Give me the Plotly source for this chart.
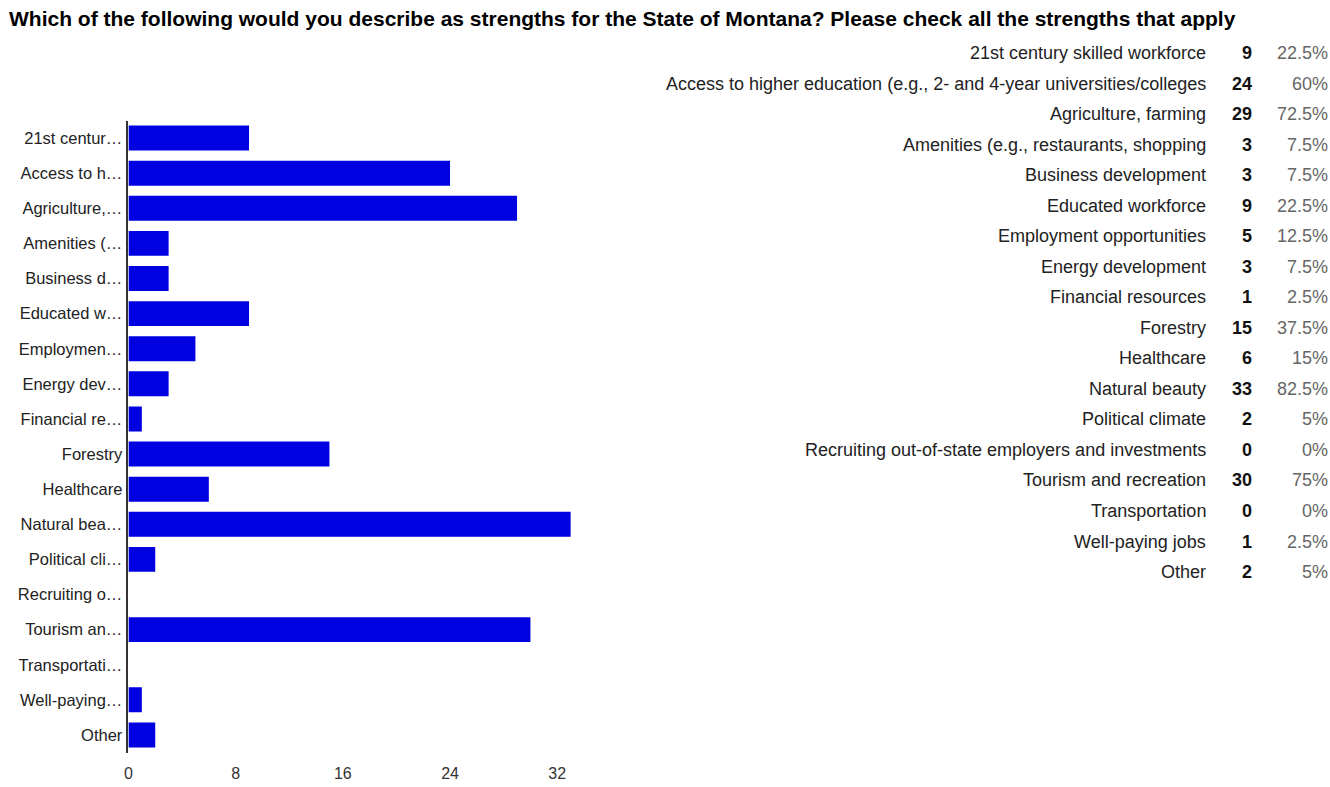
import plotly.graph_objects as go

categories = [
    "21st century skilled workforce",
    "Access to higher education (e.g., 2- and 4-year universities/colleges",
    "Agriculture, farming",
    "Amenities (e.g., restaurants, shopping",
    "Business development",
    "Educated workforce",
    "Employment opportunities",
    "Energy development",
    "Financial resources",
    "Forestry",
    "Healthcare",
    "Natural beauty",
    "Political climate",
    "Recruiting out-of-state employers and investments",
    "Tourism and recreation",
    "Transportation",
    "Well-paying jobs",
    "Other",
]
short_labels = [
    "21st centur…", "Access to h…", "Agriculture,…", "Amenities (…", "Business d…",
    "Educated w…", "Employmen…", "Energy dev…", "Financial re…", "Forestry",
    "Healthcare", "Natural bea…", "Political cli…", "Recruiting o…", "Tourism an…",
    "Transportati…", "Well-paying…", "Other",
]
counts = [9, 24, 29, 3, 3, 9, 5, 3, 1, 15, 6, 33, 2, 0, 30, 0, 1, 2]
percents = ["22.5%", "60%", "72.5%", "7.5%", "7.5%", "22.5%", "12.5%", "7.5%", "2.5%",
            "37.5%", "15%", "82.5%", "5%", "0%", "75%", "0%", "2.5%", "5%"]
x_ticks = [0, 8, 16, 24, 32]

title = "Which of the following would you describe as strengths for the State of Montana? Please check all the strengths that apply"

W, H = 1330, 787
FONT = "Liberation Sans, Arial, sans-serif"

fig = go.Figure()
fig.add_trace(go.Bar(
    x=counts, y=categories, orientation="h",
    marker=dict(color="#0000e0", line=dict(width=0)),
    xaxis="x", yaxis="y", hoverinfo="x+y",
))
# invisible trace to establish the table's category axis
fig.add_trace(go.Scatter(
    x=[0] * len(categories), y=categories, mode="markers",
    marker=dict(opacity=0), xaxis="x2", yaxis="y2", hoverinfo="skip", showlegend=False,
))

bar_dom_x = [124.8 / W, 581.8 / W]
bar_dom_y = [1 - 752.5 / H, 1 - 120.5 / H]
tab_dom_y = [1 - 587.3 / H, 1 - 37.7 / H]

fig.update_layout(
    width=W, height=H,
    margin=dict(l=0, r=0, t=0, b=0),
    paper_bgcolor="white", plot_bgcolor="white",
    showlegend=False, bargap=0.29,
    font=dict(family=FONT, size=14, color="#222"),
    xaxis=dict(domain=bar_dom_x, range=[0, 34], tickvals=x_ticks, showgrid=False,
               zeroline=False, showline=False, ticks="", ticklabelstandoff=9,
               tickfont=dict(size=16, color="#333"), fixedrange=True),
    yaxis=dict(domain=bar_dom_y, type="category", categoryarray=categories,
               range=[len(categories) - 0.5, -0.5],
               tickvals=categories, ticktext=short_labels,
               showline=True, linecolor="#333", linewidth=1.5, ticks="",
               ticklabelstandoff=1,
               showgrid=False, tickfont=dict(size=16.5, color="#222")),
    xaxis2=dict(domain=[0.6, 1.0], range=[0, 1], visible=False, anchor="y2"),
    yaxis2=dict(domain=tab_dom_y, type="category", categoryarray=categories,
                range=[len(categories) - 0.5, -0.5], visible=False, anchor="x2"),
)

annotations = [dict(
    text="<b>" + title + "</b>", xref="paper", yref="paper",
    x=3 / W, y=1 - 18 / H, xanchor="left", yanchor="middle", showarrow=False,
    font=dict(size=21, color="#000", family=FONT),
)]
for cat, c, p in zip(categories, counts, percents):
    annotations.append(dict(text=cat, xref="paper", yref="y2", x=1208 / W, y=cat,
                            xanchor="right", yanchor="middle", showarrow=False,
                            font=dict(size=18, color="#222")))
    annotations.append(dict(text="<b>%d</b>" % c, xref="paper", yref="y2", x=1254 / W, y=cat,
                            xanchor="right", yanchor="middle", showarrow=False,
                            font=dict(size=18, color="#111")))
    annotations.append(dict(text=p, xref="paper", yref="y2", x=1330 / W, y=cat,
                            xanchor="right", yanchor="middle", showarrow=False,
                            font=dict(size=18, color="#666")))
fig.update_layout(annotations=annotations)

fig.write_html("out.html")
